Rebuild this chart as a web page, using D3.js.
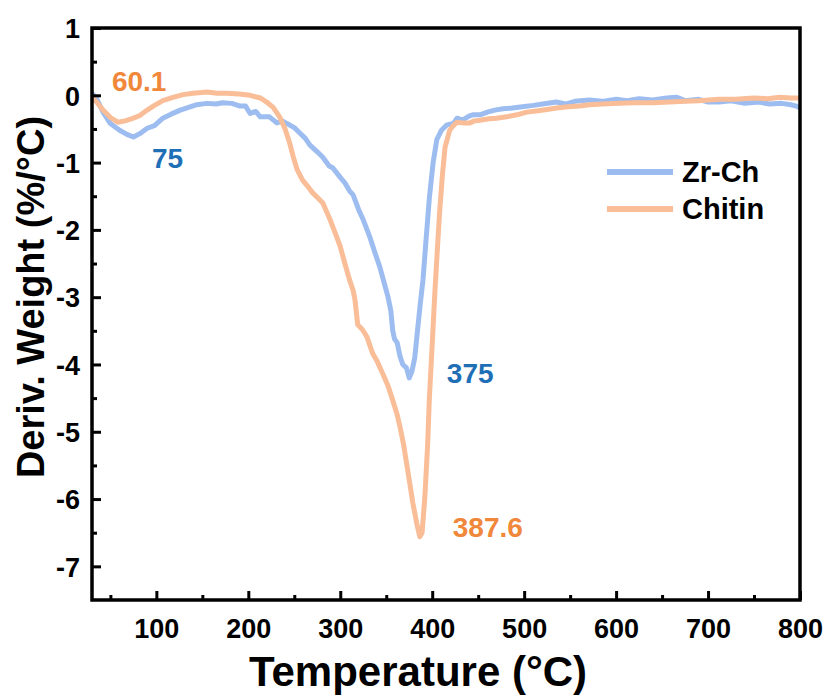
<!DOCTYPE html>
<html>
<head>
<meta charset="utf-8">
<script src="https://cdn.jsdelivr.net/npm/d3@7"></script>
<style>
  body { margin: 0; background: #fff; }
  text { font-family: "Liberation Sans", Arial, sans-serif; font-weight: bold; }
</style>
</head>
<body>
<div id="chart"></div>
<script>
// data
const zrTemp = [30,35,42,50,60,68,75,82,90,98,107,116,126,135,144,155,165,172,182,191,197,202,208,213,223,231,237,242,250,256,262,267,275,281,288,292,300,305,310,314,320,325,332,338,343,348,352,355,357,359,362,365,368,372,375,378,381,384,387,390,393,397,401,405,410,416,423,427,433,440,444,452,460,468,477,487,498,510,520,535,545,555,571,585,600,612,625,640,655,666,675,690,700,712,725,740,755,767,780,790,796,800];
const zrDTG = [0.03,-0.05,-0.25,-0.42,-0.52,-0.58,-0.62,-0.57,-0.49,-0.45,-0.34,-0.28,-0.22,-0.18,-0.14,-0.12,-0.13,-0.11,-0.12,-0.16,-0.16,-0.27,-0.24,-0.32,-0.32,-0.41,-0.38,-0.42,-0.48,-0.56,-0.64,-0.74,-0.84,-0.92,-1.05,-1.08,-1.22,-1.30,-1.42,-1.48,-1.70,-1.85,-2.1,-2.35,-2.55,-2.8,-3.0,-3.2,-3.49,-3.62,-3.68,-3.88,-4.0,-4.05,-4.2,-4.1,-3.9,-3.5,-3.1,-2.74,-2.2,-1.51,-1.0,-0.66,-0.52,-0.44,-0.42,-0.34,-0.37,-0.31,-0.29,-0.29,-0.25,-0.22,-0.20,-0.19,-0.17,-0.15,-0.13,-0.10,-0.13,-0.09,-0.07,-0.09,-0.06,-0.08,-0.05,-0.07,-0.04,-0.03,-0.08,-0.06,-0.10,-0.10,-0.08,-0.12,-0.10,-0.13,-0.12,-0.14,-0.16,-0.19];

const chTemp = [30,35,42,50,58,66,75,82,90,98,107,118,129,140,155,166,177,190,202,213,220,227,234,240,245,249,253,259,265,270,276,281,289,296,300,305,310,314,316,319,324,329,335,340,346,352,357,362,365,369,372,376,379,383,386.5,389,392,395,397,400,403,406,408,411,414,419,423,427,433,441,446,452,462,470,481,492,503,515,525,535,548,560,571,585,604,620,640,658,675,690,712,730,750,765,778,790,800];
const chDTG = [-0.03,-0.10,-0.22,-0.33,-0.40,-0.38,-0.34,-0.30,-0.22,-0.15,-0.08,-0.03,0.01,0.03,0.05,0.03,0.03,0.02,0.00,-0.04,-0.10,-0.18,-0.32,-0.50,-0.71,-0.92,-1.10,-1.26,-1.36,-1.45,-1.53,-1.60,-1.85,-2.1,-2.25,-2.5,-2.74,-2.9,-3.04,-3.41,-3.48,-3.59,-3.83,-3.95,-4.13,-4.32,-4.53,-4.75,-4.93,-5.2,-5.46,-5.8,-6.06,-6.35,-6.56,-6.5,-5.97,-5.2,-4.48,-3.7,-2.9,-2.2,-1.75,-1.2,-0.77,-0.52,-0.45,-0.40,-0.41,-0.41,-0.38,-0.37,-0.35,-0.34,-0.32,-0.29,-0.25,-0.23,-0.21,-0.19,-0.17,-0.16,-0.14,-0.13,-0.12,-0.11,-0.11,-0.10,-0.09,-0.08,-0.06,-0.06,-0.04,-0.05,-0.03,-0.04,-0.04];

const seriesNames = ["Zr-Ch", "Chitin"];
const seriesColors = ["#9dbdf1", "#f9bd98"];
const xTicks = [100,200,300,400,500,600,700,800];
const xMinor = [50,150,250,350,450,550,650,750];
const yTicks = [1,0,-1,-2,-3,-4,-5,-6,-7];
const yMinor = [0.5,-0.5,-1.5,-2.5,-3.5,-4.5,-5.5,-6.5];
// peak labels: text, where it sits (temperature, DTG), colour
const peakText = ["60.1", "75", "375", "387.6"];
const peakAt = [[51.7, 0.06], [95.2, -1.08], [415.9, -4.27], [422.4, -6.56]];
const peakColor = ["#f0873a", "#1f6fb6", "#1f6fb6", "#f0873a"];

const W = 826, H = 697;
const margin = {top: 28, right: 26, bottom: 97, left: 92};

const svg = d3.select("#chart").append("svg")
    .attr("width", W)
    .attr("height", H);

const x = d3.scaleLinear().domain([30, 800]).range([margin.left, W - margin.right]);
const y = d3.scaleLinear().domain([-7.5, 1]).range([H - margin.bottom, margin.top]);

svg.append("clipPath").attr("id", "plotclip")
  .append("rect")
    .attr("x", margin.left).attr("y", margin.top)
    .attr("width", x.range()[1] - margin.left)
    .attr("height", y.range()[0] - margin.top);

// curves
const line = d3.line().x(d => x(d[0])).y(d => y(d[1]));
const series = [
  d3.zip(zrTemp, zrDTG),
  d3.zip(chTemp, chDTG)
];
svg.append("g").attr("clip-path", "url(#plotclip)")
  .selectAll("path")
  .data(series)
  .join("path")
    .attr("d", line)
    .attr("fill", "none")
    .attr("stroke", (d, i) => seriesColors[i])
    .attr("stroke-width", 5)
    .attr("stroke-linejoin", "round")
    .attr("stroke-linecap", "round");

// axes with inward ticks
const fmt = d => String(d);
const xAxis = svg.append("g")
    .attr("transform", `translate(0,${y.range()[0]})`)
    .call(d3.axisBottom(x).tickValues(xTicks).tickFormat(fmt).tickSizeInner(-9).tickSizeOuter(0).tickPadding(14));
svg.append("g")
    .attr("transform", `translate(0,${y.range()[0]})`)
    .call(d3.axisBottom(x).tickValues(xMinor).tickSizeInner(-5).tickSizeOuter(0).tickFormat(""));
const yAxis = svg.append("g")
    .attr("transform", `translate(${margin.left},0)`)
    .call(d3.axisLeft(y).tickValues(yTicks).tickFormat(fmt).tickSizeInner(-9).tickSizeOuter(0).tickPadding(12));
svg.append("g")
    .attr("transform", `translate(${margin.left},0)`)
    .call(d3.axisLeft(y).tickValues(yMinor).tickSizeInner(-5).tickSizeOuter(0).tickFormat(""));

svg.selectAll(".domain").remove();
svg.selectAll(".tick line").attr("stroke", "#000").attr("stroke-width", 3);
svg.selectAll(".tick text")
    .attr("font-size", 27)
    .attr("font-family", "Liberation Sans, Arial, sans-serif")
    .attr("font-weight", "bold")
    .attr("fill", "#000");
xAxis.selectAll(".tick text").attr("dy", "0.9em");
yAxis.selectAll(".tick text").attr("dy", "0.36em");

// frame
svg.append("rect")
    .attr("x", margin.left).attr("y", margin.top)
    .attr("width", x.range()[1] - margin.left)
    .attr("height", y.range()[0] - margin.top)
    .attr("fill", "none")
    .attr("stroke", "#000")
    .attr("stroke-width", 3.5);

// axis titles
svg.append("text")
    .attr("x", 418)
    .attr("y", 686)
    .attr("text-anchor", "middle")
    .attr("font-size", 42)
    .text("Temperature (°C)");
svg.append("text")
    .attr("transform", "translate(44,297) rotate(-90)")
    .attr("text-anchor", "middle")
    .attr("font-size", 38)
    .text("Deriv. Weight (%/°C)");

// peak annotations
svg.append("g").selectAll("text")
  .data(peakText)
  .join("text")
    .attr("x", (d, i) => x(peakAt[i][0]))
    .attr("y", (d, i) => y(peakAt[i][1]))
    .attr("font-size", 28)
    .attr("fill", (d, i) => peakColor[i])
    .text(d => d);

// legend
const legend = svg.append("g").selectAll("g")
  .data(seriesNames)
  .join("g")
    .attr("transform", (d, i) => `translate(607,${172 + i * 37})`);
legend.append("line")
    .attr("x1", 0).attr("x2", 66)
    .attr("stroke", (d, i) => seriesColors[i])
    .attr("stroke-width", 6);
legend.append("text")
    .attr("x", 75)
    .attr("dy", "0.36em")
    .attr("font-size", 29)
    .text(d => d);
</script>
</body>
</html>
